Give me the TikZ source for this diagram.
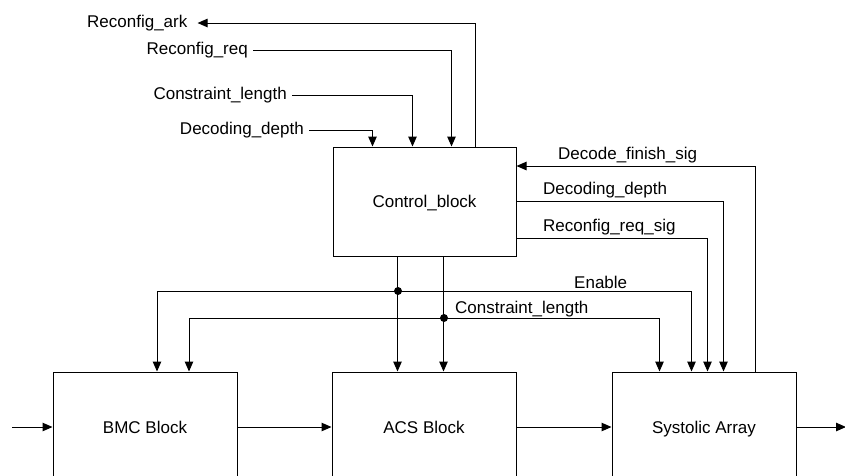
\documentclass[tikz,border=0pt]{standalone}
\usepackage{fontspec}
\setmainfont{Liberation Sans}
\usetikzlibrary{arrows.meta,positioning}

\begin{document}
\begin{tikzpicture}[
    x=1pt, y=-1pt,
    block/.style={
        rectangle, draw=black, line width=1pt,
        minimum width=184pt, minimum height=110pt,
        text height=12pt, text depth=0pt,
        font=\fontsize{17}{20}\selectfont
    },
    sig/.style={font=\fontsize{17}{20}\selectfont, inner xsep=5pt, inner ysep=0pt},
    wire/.style={line width=1pt},
    arrow/.style={wire, -{Triangle[length=10pt,width=8.5pt]}},
    dot/.style={circle, fill=black, inner sep=0pt, minimum size=8pt}
]
\useasboundingbox (0,0) rectangle (845,475);
\clip (0,0) rectangle (845,475);

% blocks
\node[block, minimum width=183pt, minimum height=109pt] (ctrl) at (424.5,201.5) {Control\_block};
\node[block] (bmc) at (145,427) {BMC Block};
\node[block] (acs) at (424,427) {ACS Block};
\node[block] (sys) at (704,427) {Systolic Array};

% data path
\coordinate (in) at (12,427);
\coordinate (out) at (846,427);
\draw[arrow] (in) -- (bmc);
\draw[arrow] (bmc) -- (acs);
\draw[arrow] (acs) -- (sys);
\draw[arrow] (sys) -- (out);

% external control signals
\node[sig, anchor=west] (ark) at (82,23) {Reconfig\_ark};
\node[sig, anchor=east] (req) at (253,50) {Reconfig\_req};
\node[sig, anchor=east] (len) at (292,95) {Constraint\_length};
\node[sig, anchor=east] (depth) at (309,130) {Decoding\_depth};

\draw[arrow] ([xshift=143pt]ctrl.north west) |- ([xshift=5pt]ark.east);
\draw[arrow] (req.east) -| ([xshift=119pt]ctrl.north west);
\draw[arrow] (len.east) -| ([xshift=80pt]ctrl.north west);
\draw[arrow] (depth.east) -| ([xshift=40pt]ctrl.north west);

% control <-> systolic array
\draw[arrow] ([xshift=144pt]sys.north west) |- ([yshift=35.5pt]ctrl.east);
\draw[arrow] (ctrl.east) -| ([xshift=112pt]sys.north west);
\draw[arrow] ([yshift=-36.5pt]ctrl.east) -| ([xshift=96pt]sys.north west);
\node[sig, anchor=west, inner xsep=0pt] (finish) at (558,155) {Decode\_finish\_sig};
\node[sig, anchor=west, inner xsep=0pt] (depthout) at (543,190) {Decoding\_depth};
\node[sig, anchor=west, inner xsep=0pt] (reqsig) at (543,227) {Reconfig\_req\_sig};

% enable and constraint length to the blocks
\draw[arrow] ([xshift=65pt]ctrl.south west) -- ([xshift=65pt]ctrl.south west |- acs.north);
\draw[arrow] ([xshift=111pt]ctrl.south west) -- ([xshift=111pt]ctrl.south west |- acs.north);
\node[dot] (endot) at (398,291) {};
\node[dot] (lendot) at (444,318) {};
\draw[arrow] (endot.center) -| ([xshift=12pt]bmc.north);
\draw[arrow] (endot.center) -| ([xshift=80pt]sys.north west);
\draw[arrow] (lendot.center) -| ([xshift=44pt]bmc.north);
\draw[arrow] (lendot.center) -| ([xshift=48pt]sys.north west);
\node[sig, anchor=west, inner xsep=0pt] (enable) at (574,282) {Enable};
\node[sig, anchor=west, inner xsep=0pt] (lenout) at (455,309) {Constraint\_length};
\end{tikzpicture}
\end{document}
